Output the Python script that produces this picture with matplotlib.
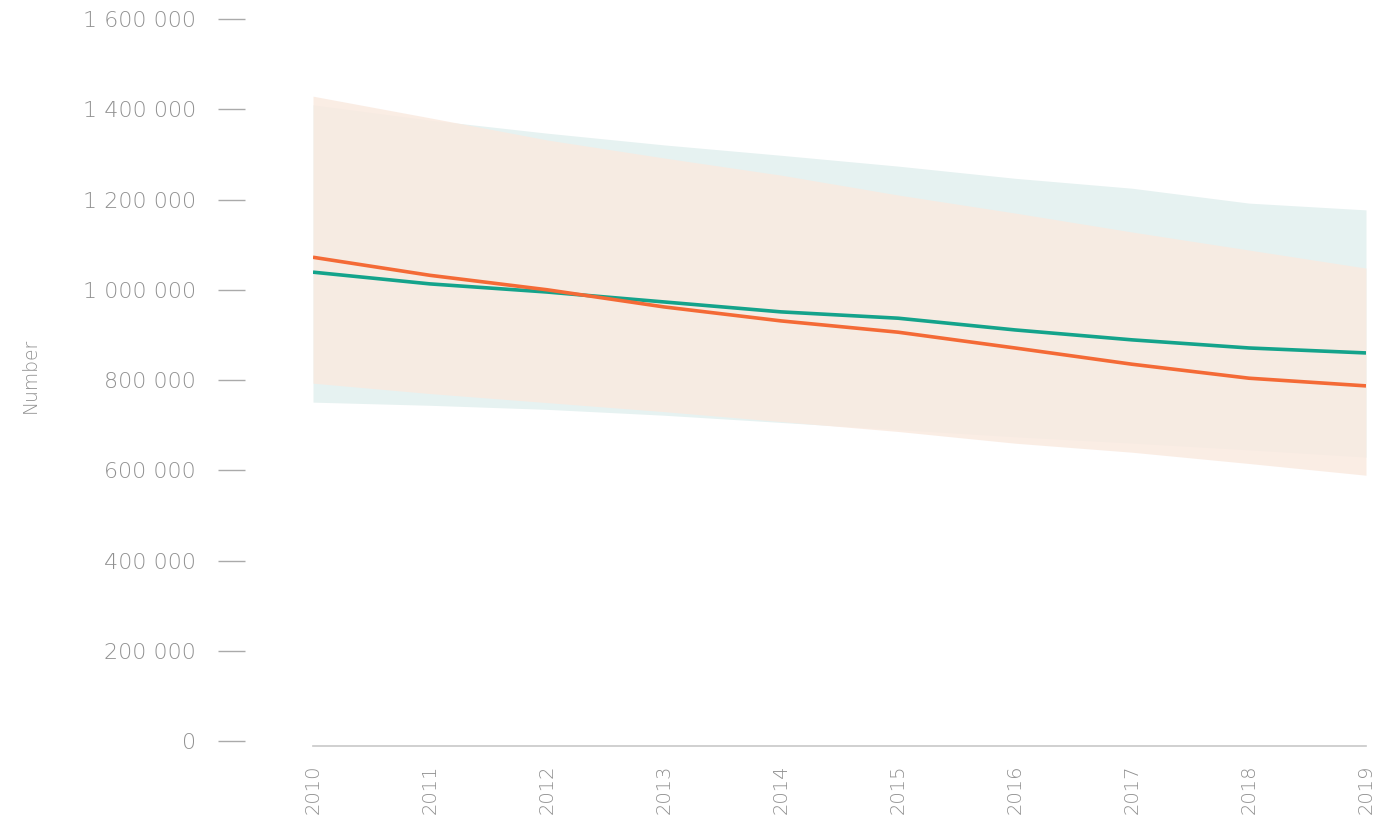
import matplotlib
matplotlib.use("Agg")
import matplotlib.pyplot as plt
from matplotlib.ticker import FuncFormatter

years = [2010, 2011, 2012, 2013, 2014, 2015, 2016, 2017, 2018, 2019]

orange_mid = [1072000, 1032000, 1000000, 962000, 931000, 906000, 871000, 835000, 804000, 787000]
orange_hi = [1429000, 1381000, 1332000, 1292000, 1254000, 1210000, 1170000, 1128000, 1088000, 1048000]
orange_lo = [793000, 770000, 750000, 730000, 708000, 686000, 660000, 640000, 615000, 589000]

teal_mid = [1039000, 1013000, 995000, 973000, 951000, 937000, 911000, 889000, 871000, 860000]
teal_hi = [1410000, 1376000, 1347000, 1321000, 1298000, 1274000, 1247000, 1225000, 1192000, 1177000]
teal_lo = [751000, 744000, 735000, 722000, 706000, 690000, 674000, 660000, 645000, 629000]

yticks = [0, 200000, 400000, 600000, 800000, 1000000, 1200000, 1400000, 1600000]

plt.rcParams['font.family'] = ['DejaVu Sans']
plt.rcParams['font.weight'] = 'light'
GRAY = '#909090'

fig = plt.figure(figsize=(13.8, 8.15), dpi=100)
ax = fig.add_axes([313/1380, (815-746)/815, (1366-313)/1380, (746-19)/815])

ax.fill_between(years, teal_lo, teal_hi, color='#E6F2F1', lw=0, zorder=1)
ax.fill_between(years, orange_lo, orange_hi, color='#FAEAE0', alpha=0.85, lw=0, zorder=2)
ax.plot(years, teal_mid, color='#14A38B', lw=2.6, zorder=3, solid_capstyle='butt')
ax.plot(years, orange_mid, color='#F46A36', lw=2.6, zorder=4, solid_capstyle='butt')

ax.set_xlim(2010, 2019)
ax.set_ylim(-11000, 1600000)
ax.set_xticks(years)
ax.set_xticklabels([str(y) for y in years], rotation=90)
ax.set_yticks(yticks)
ax.yaxis.set_major_formatter(FuncFormatter(lambda v, p: f"{int(v):,}".replace(",", " ")))

for s in ['top', 'right', 'left']:
    ax.spines[s].set_visible(False)
ax.spines['left'].set_position(('outward', 68 * 0.72))
ax.spines['bottom'].set_color('#c8c8c8')
ax.spines['bottom'].set_linewidth(1.2)

ax.tick_params(axis='y', length=27 * 0.72, width=1.0, color='#aaaaaa', pad=22 * 0.72,
               labelcolor=GRAY, labelsize=16)
ax.tick_params(axis='x', length=0, pad=18 * 0.72, labelcolor=GRAY, labelsize=14)

fig.text(30/1380, 1 - 375/815, 'Number', rotation=90, va='center', ha='center',
         color=GRAY, fontsize=13.5)

fig.savefig('out.png', dpi=100, facecolor='white')
